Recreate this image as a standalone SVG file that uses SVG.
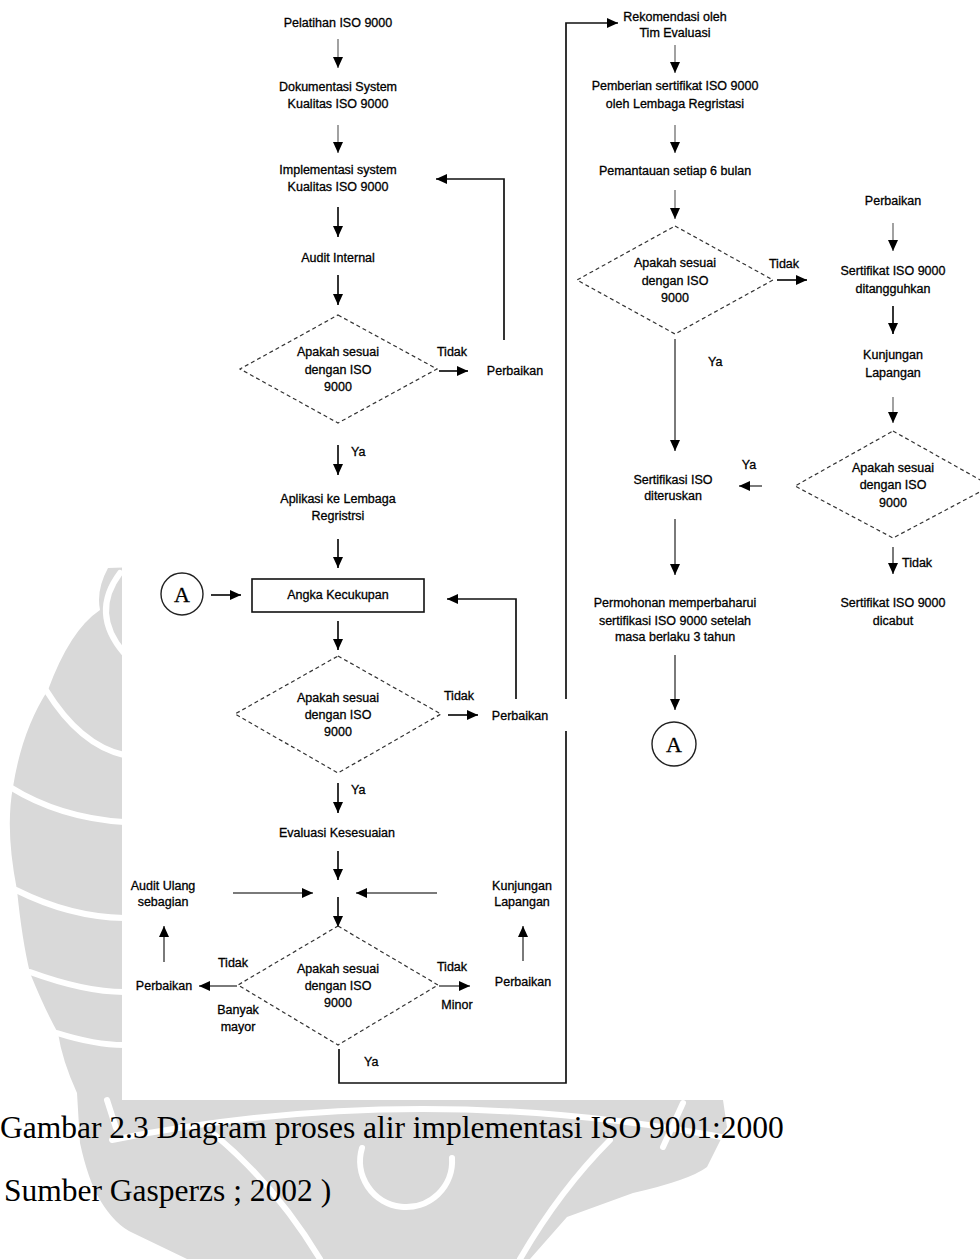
<svg xmlns="http://www.w3.org/2000/svg" width="980" height="1259" viewBox="0 0 980 1259">
<style>
.t{font-family:"Liberation Sans",Arial,sans-serif;font-size:12.5px;fill:#000;stroke:#000;stroke-width:0.3;text-anchor:middle}
.ts{font-family:"Liberation Sans",Arial,sans-serif;font-size:12.5px;fill:#000;stroke:#000;stroke-width:0.3;text-anchor:start}
.cap{font-family:"Liberation Serif","Times New Roman",serif;font-size:31.5px;fill:#000}
.ln{fill:none;stroke:#111;stroke-width:1.7}
.lt{fill:none;stroke:#555;stroke-width:1.1}
.lg{fill:none;stroke:#7a7a7a;stroke-width:2}
.dia{fill:none;stroke:#333;stroke-width:1.2;stroke-dasharray:4 3}
.box{fill:#fff;stroke:#111;stroke-width:1.6}
.circ{fill:#fff;stroke:#222;stroke-width:1.4}
.ca{font-family:"Liberation Serif","Times New Roman",serif;font-size:22px;fill:#000;stroke:#000;stroke-width:0.3;text-anchor:middle}
.wm{fill:#d9d9d9}
.ws{fill:none;stroke:#fff;stroke-width:6;stroke-linecap:round}
</style>
<defs>
<marker id="ah" markerUnits="userSpaceOnUse" markerWidth="12" markerHeight="12" viewBox="0 0 12 12" refX="11" refY="6" orient="auto"><path d="M0,1 L11,6 L0,11 z" fill="#000"/></marker>
</defs>
<rect x="0" y="0" width="980" height="1259" fill="#fff"/>
<g id="watermark">
<path class="wm" d="M200,565 L108,568 Q96,590 100,610 Q70,630 48,690 Q22,730 13,787 Q5,830 17,890 Q22,940 30,973 Q45,1010 58,1033 Q62,1060 77,1093 L80,1143 Q88,1180 100,1200 Q115,1225 133,1233 L187,1259 L530,1259 L567,1217 L633,1193 Q690,1180 707,1167 L727,1127 L723,1100 L200,1100 Z"/>
<path class="ws" d="M120,573 Q90,613 124,653"/>
<path class="ws" d="M46,690 Q80,745 124,755"/>
<path class="ws" d="M10,787 Q60,818 124,822"/>
<path class="ws" d="M16,890 Q70,917 124,918"/>
<path class="ws" d="M30,972 Q85,992 124,992"/>
<path class="ws" d="M57,1033 Q95,1045 124,1045"/>
<path class="ws" d="M107,1100 L116,1128"/>
<path class="ws" d="M112,1140 Q420,1078 737,1140"/>
<path class="ws" d="M215,1135 Q275,1185 320,1259"/>
<path class="ws" d="M683,1103 L663,1147"/>
<path class="ws" d="M610,1140 Q560,1190 520,1259"/>
<path class="ws" d="M362,1148 A46,46 0 1,0 452,1158"/>
</g>
<rect x="122" y="0" width="858" height="1100" fill="#fff"/>
<g id="connectors">
<path class="lt" d="M338,39 V68" marker-end="url(#ah)"/>
<path class="lt" d="M338,125 V153" marker-end="url(#ah)"/>
<path class="ln" d="M338,207 V237" marker-end="url(#ah)"/>
<path class="ln" d="M338,275 V305" marker-end="url(#ah)"/>
<path class="ln" d="M439,371 H468" marker-end="url(#ah)"/>
<path class="ln" d="M504,340 V179 H436" marker-end="url(#ah)"/>
<path class="ln" d="M338,445 V475" marker-end="url(#ah)"/>
<path class="ln" d="M338,539 V568" marker-end="url(#ah)"/>
<path class="ln" d="M211,595 H241" marker-end="url(#ah)"/>
<path class="ln" d="M516,699 V599 H447" marker-end="url(#ah)"/>
<path class="ln" d="M338,621 V650" marker-end="url(#ah)"/>
<path class="ln" d="M448,715 H478" marker-end="url(#ah)"/>
<path class="ln" d="M338,783 V813" marker-end="url(#ah)"/>
<path class="ln" d="M338,851 V880" marker-end="url(#ah)"/>
<path class="lg" d="M233,893 H313" marker-end="url(#ah)"/>
<path class="lg" d="M437,893 H356" marker-end="url(#ah)"/>
<path class="ln" d="M338,897 V927" marker-end="url(#ah)"/>
<path class="lg" d="M164,962 V926" marker-end="url(#ah)"/>
<path class="lg" d="M237,986 H199" marker-end="url(#ah)"/>
<path class="lg" d="M439,986 H470" marker-end="url(#ah)"/>
<path class="lg" d="M523,961 V926" marker-end="url(#ah)"/>
<path class="ln" d="M339,1049 V1083 H566 V731"/>
<path class="ln" d="M566,699 V23 H618" marker-end="url(#ah)"/>
<path class="lt" d="M675,45 V73" marker-end="url(#ah)"/>
<path class="lt" d="M675,125 V153" marker-end="url(#ah)"/>
<path class="lt" d="M675,190 V219" marker-end="url(#ah)"/>
<path class="ln" d="M777,280 H807" marker-end="url(#ah)"/>
<path class="lt" d="M893,223 V251" marker-end="url(#ah)"/>
<path class="ln" d="M893,306 V334" marker-end="url(#ah)"/>
<path class="lt" d="M893,397 V423" marker-end="url(#ah)"/>
<path class="lg" d="M762,486 H739" marker-end="url(#ah)"/>
<path class="lg" d="M675,339 V451" marker-end="url(#ah)"/>
<path class="lg" d="M675,519 V575" marker-end="url(#ah)"/>
<path class="lg" d="M675,655 V710" marker-end="url(#ah)"/>
<path class="lg" d="M893,547 V574" marker-end="url(#ah)"/>
</g>
<g id="n-pelatihan"><text class="t" x="338" y="27">Pelatihan ISO 9000</text></g>
<g id="n-dokumentasi"><text class="t" x="338" y="91">Dokumentasi System</text><text class="t" x="338" y="108">Kualitas ISO 9000</text></g>
<g id="n-implementasi"><text class="t" x="338" y="174">Implementasi system</text><text class="t" x="338" y="191">Kualitas ISO 9000</text></g>
<g id="n-audit"><text class="t" x="338" y="262">Audit Internal</text></g>
<g id="n-d1"><polygon class="dia" points="338,315 437,369 338,423 240,369"/><text class="t" x="338" y="356">Apakah sesuai</text><text class="t" x="338" y="374">dengan ISO</text><text class="t" x="338" y="391">9000</text></g>
<g id="l-d1"><text class="t" x="452" y="356">Tidak</text><text class="ts" x="351" y="456">Ya</text></g>
<g id="n-perbaikan1"><text class="t" x="515" y="375">Perbaikan</text></g>
<g id="n-aplikasi"><text class="t" x="338" y="503">Aplikasi ke Lembaga</text><text class="t" x="338" y="520">Regristrsi</text></g>
<g id="n-a1"><circle class="circ" cx="182" cy="594" r="21"/><text class="ca" x="182" y="602">A</text></g>
<g id="n-angka"><rect class="box" x="252" y="579" width="172" height="33"/><text class="t" x="338" y="599">Angka Kecukupan</text></g>
<g id="n-d2"><polygon class="dia" points="338,656 441,714 338,773 235,714"/><text class="t" x="338" y="702">Apakah sesuai</text><text class="t" x="338" y="719">dengan ISO</text><text class="t" x="338" y="736">9000</text></g>
<g id="l-d2"><text class="t" x="459" y="700">Tidak</text><text class="ts" x="351" y="794">Ya</text></g>
<g id="n-perbaikan2"><text class="t" x="520" y="720">Perbaikan</text></g>
<g id="n-evaluasi"><text class="t" x="337" y="837">Evaluasi Kesesuaian</text></g>
<g id="n-auditulang"><text class="t" x="163" y="890">Audit Ulang</text><text class="t" x="163" y="906">sebagian</text></g>
<g id="n-kunjungan1"><text class="t" x="522" y="890">Kunjungan</text><text class="t" x="522" y="906">Lapangan</text></g>
<g id="n-d3"><polygon class="dia" points="338,926 438,985 338,1045 238,985"/><text class="t" x="338" y="973">Apakah sesuai</text><text class="t" x="338" y="990">dengan ISO</text><text class="t" x="338" y="1007">9000</text></g>
<g id="l-d3"><text class="t" x="233" y="967">Tidak</text><text class="t" x="238" y="1014">Banyak</text><text class="t" x="238" y="1031">mayor</text><text class="t" x="452" y="971">Tidak</text><text class="t" x="457" y="1009">Minor</text><text class="ts" x="364" y="1066">Ya</text></g>
<g id="n-perbaikan3"><text class="t" x="164" y="990">Perbaikan</text></g>
<g id="n-perbaikan4"><text class="t" x="523" y="986">Perbaikan</text></g>
<g id="n-rekomendasi"><text class="t" x="675" y="21">Rekomendasi oleh</text><text class="t" x="675" y="37">Tim Evaluasi</text></g>
<g id="n-pemberian"><text class="t" x="675" y="90">Pemberian sertifikat ISO 9000</text><text class="t" x="675" y="108">oleh Lembaga Regristasi</text></g>
<g id="n-pemantauan"><text class="t" x="675" y="175">Pemantauan setiap 6 bulan</text></g>
<g id="n-d4"><polygon class="dia" points="675,226 773,280 675,334 577,280"/><text class="t" x="675" y="267">Apakah sesuai</text><text class="t" x="675" y="285">dengan ISO</text><text class="t" x="675" y="302">9000</text></g>
<g id="l-d4"><text class="t" x="784" y="268">Tidak</text><text class="ts" x="708" y="366">Ya</text></g>
<g id="n-perbaikan5"><text class="t" x="893" y="205">Perbaikan</text></g>
<g id="n-ditangguhkan"><text class="t" x="893" y="275">Sertifikat ISO 9000</text><text class="t" x="893" y="293">ditangguhkan</text></g>
<g id="n-kunjungan2"><text class="t" x="893" y="359">Kunjungan</text><text class="t" x="893" y="377">Lapangan</text></g>
<g id="n-d5"><polygon class="dia" points="893,431 991,486 893,538 795,486"/><text class="t" x="893" y="472">Apakah sesuai</text><text class="t" x="893" y="489">dengan ISO</text><text class="t" x="893" y="507">9000</text></g>
<g id="l-d5"><text class="t" x="749" y="469">Ya</text><text class="ts" x="902" y="567">Tidak</text></g>
<g id="n-diteruskan"><text class="t" x="673" y="484">Sertifikasi ISO</text><text class="t" x="673" y="500">diteruskan</text></g>
<g id="n-permohonan"><text class="t" x="675" y="607">Permohonan memperbaharui</text><text class="t" x="675" y="625">sertifikasi ISO 9000 setelah</text><text class="t" x="675" y="641">masa berlaku 3 tahun</text></g>
<g id="n-dicabut"><text class="t" x="893" y="607">Sertifikat ISO 9000</text><text class="t" x="893" y="625">dicabut</text></g>
<g id="n-a2"><circle class="circ" cx="674" cy="744" r="22"/><text class="ca" x="674" y="752">A</text></g>
<g id="caption"><text class="cap" x="0" y="1138">Gambar 2.3 Diagram proses alir implementasi ISO 9001:2000</text><text class="cap" x="4" y="1201">Sumber Gasperzs ; 2002 )</text></g>
</svg>
